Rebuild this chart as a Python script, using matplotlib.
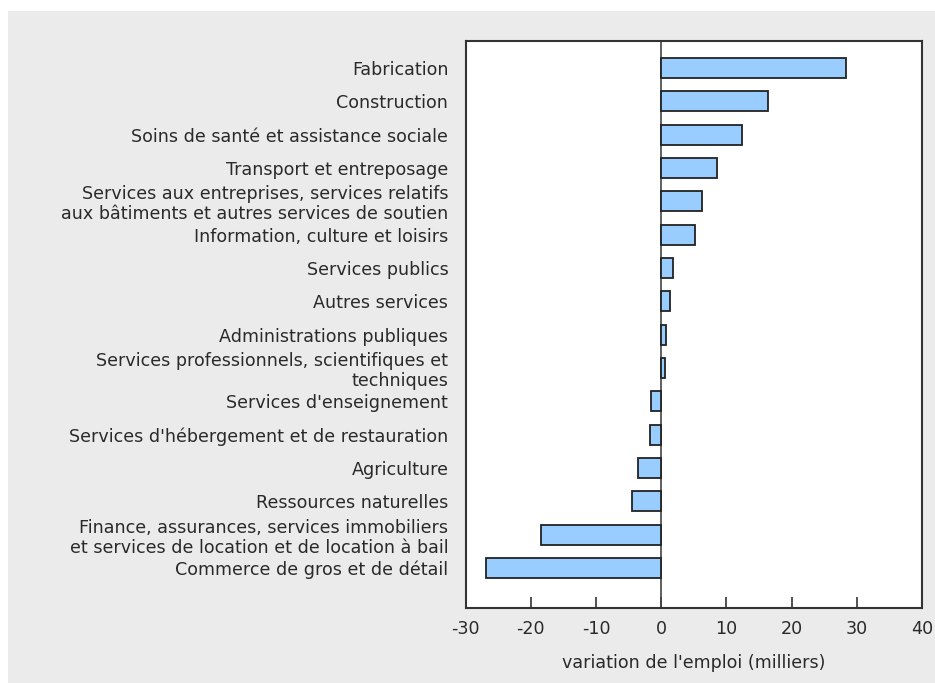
import matplotlib
matplotlib.use("Agg")
import matplotlib.pyplot as plt
from matplotlib.patches import Rectangle

categories = [
    "Fabrication",
    "Construction",
    "Soins de santé et assistance sociale",
    "Transport et entreposage",
    "Services aux entreprises, services relatifs\naux bâtiments et autres services de soutien",
    "Information, culture et loisirs",
    "Services publics",
    "Autres services",
    "Administrations publiques",
    "Services professionnels, scientifiques et\ntechniques",
    "Services d'enseignement",
    "Services d'hébergement et de restauration",
    "Agriculture",
    "Ressources naturelles",
    "Finance, assurances, services immobiliers\net services de location et de location à bail",
    "Commerce de gros et de détail",
]
values = [28.4, 16.3, 12.4, 8.6, 6.3, 5.2, 1.8, 1.4, 0.8, 0.6, -1.6, -1.7, -3.5, -4.5, -18.4, -26.9]
xticks = [-30, -20, -10, 0, 10, 20, 30, 40]
xlabel = "variation de l'emploi (milliers)"

plt.rcParams['font.family'] = ['DejaVu Sans']
txt_color = '#2a2a2a'
fs = 12.6

fig = plt.figure(figsize=(9.35, 6.83), dpi=100)
fig.patch.set_facecolor('white')
fig.patches.append(Rectangle((8/935, 0), 1, 1 - 11/683, transform=fig.transFigure,
                             facecolor='#ebebeb', edgecolor='none', zorder=-10))

ax = fig.add_axes([465.7/935, 1 - 608/683, (922 - 465.7)/935, (608 - 41)/683])
ax.set_facecolor('white')

n = len(categories)
ypos = [n - 1 - i for i in range(n)]
ax.barh(ypos, values, height=0.6, color='#99ccff', edgecolor='#222222', linewidth=1.3, zorder=3)
ax.axvline(0, color='#444444', linewidth=1.2, zorder=2)

ax.set_xlim(-30, 40)
ax.set_ylim(-1.2, n - 1 + 0.81)
ax.set_xticks(xticks)
ax.set_xticklabels([str(t) for t in xticks], fontsize=fs, color=txt_color)
ax.tick_params(axis='x', direction='in', length=8, width=1.2, colors='#333333', pad=9,
               labelcolor=txt_color)
ax.set_yticks([])
for s in ax.spines.values():
    s.set_color('#333333')
    s.set_linewidth(1.5)

for y, lab in zip(ypos, categories):
    ax.text(-0.038, y, lab, transform=ax.get_yaxis_transform(), ha='right',
            va='center_baseline', fontsize=fs, color=txt_color, linespacing=1.15)

ax.set_xlabel(xlabel, fontsize=fs, color=txt_color, labelpad=11)

fig.savefig("out.png", dpi=100, facecolor=fig.get_facecolor())
